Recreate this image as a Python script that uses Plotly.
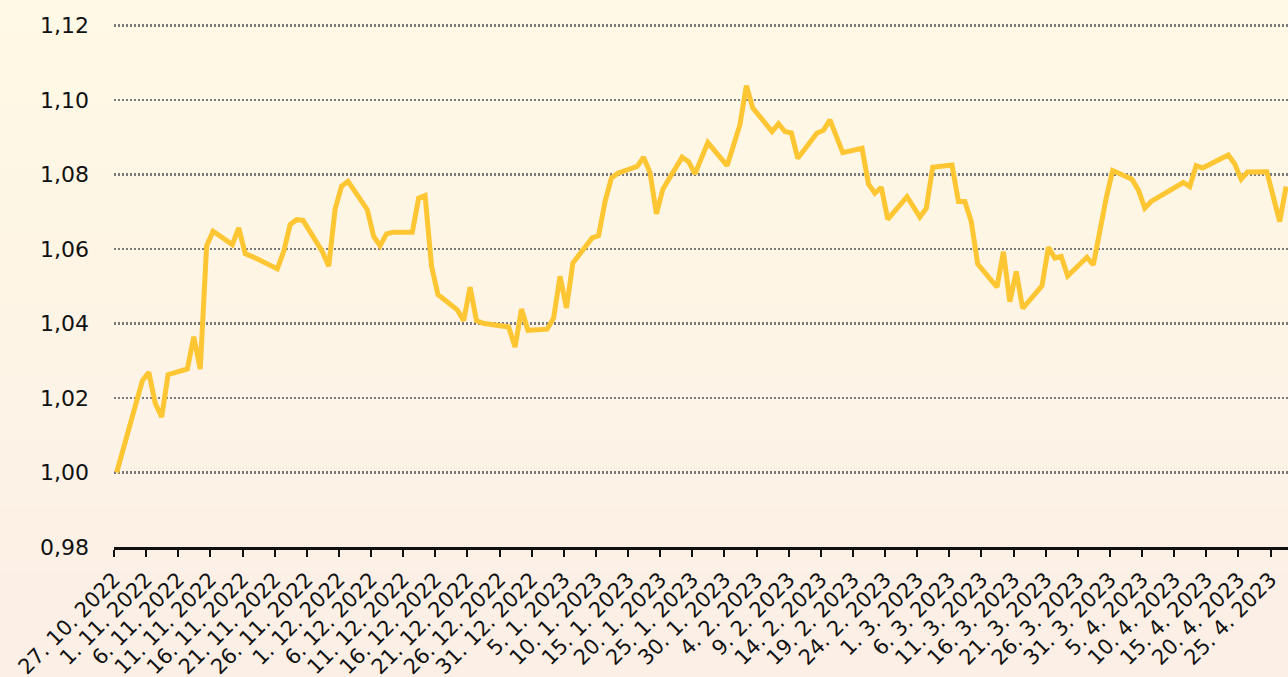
import base64
import struct
import zlib

import pandas as pd
import plotly.graph_objects as go

# ---------------- data ----------------
dates = [
    "2022-10-27", "2022-10-31", "2022-11-01", "2022-11-02", "2022-11-03", "2022-11-04",
    "2022-11-07", "2022-11-08", "2022-11-09", "2022-11-10", "2022-11-11",
    "2022-11-14", "2022-11-15", "2022-11-16", "2022-11-18",
    "2022-11-21", "2022-11-22", "2022-11-23", "2022-11-24", "2022-11-25",
    "2022-11-28", "2022-11-29", "2022-11-30", "2022-12-01", "2022-12-02",
    "2022-12-05", "2022-12-06", "2022-12-07", "2022-12-08", "2022-12-09",
    "2022-12-12", "2022-12-13", "2022-12-14", "2022-12-15", "2022-12-16",
    "2022-12-19", "2022-12-20", "2022-12-21", "2022-12-22", "2022-12-23",
    "2022-12-27", "2022-12-28", "2022-12-29", "2022-12-30",
    "2023-01-02", "2023-01-03", "2023-01-04", "2023-01-05", "2023-01-06",
    "2023-01-09", "2023-01-10", "2023-01-11", "2023-01-12", "2023-01-13",
    "2023-01-16", "2023-01-17", "2023-01-18", "2023-01-19", "2023-01-20",
    "2023-01-23", "2023-01-24", "2023-01-25", "2023-01-27",
    "2023-01-30", "2023-02-01", "2023-02-02", "2023-02-03",
    "2023-02-06", "2023-02-07", "2023-02-08", "2023-02-09", "2023-02-10",
    "2023-02-13", "2023-02-14", "2023-02-15", "2023-02-16", "2023-02-17",
    "2023-02-20", "2023-02-21", "2023-02-22", "2023-02-23", "2023-02-24",
    "2023-02-27", "2023-03-01", "2023-03-02", "2023-03-03",
    "2023-03-06", "2023-03-07", "2023-03-08", "2023-03-09", "2023-03-10",
    "2023-03-13", "2023-03-14", "2023-03-15", "2023-03-16", "2023-03-17",
    "2023-03-20", "2023-03-21", "2023-03-22", "2023-03-23", "2023-03-24",
    "2023-03-27", "2023-03-28", "2023-03-30", "2023-03-31",
    "2023-04-03", "2023-04-04", "2023-04-05", "2023-04-06",
    "2023-04-11", "2023-04-12", "2023-04-13", "2023-04-14",
    "2023-04-18", "2023-04-19", "2023-04-20", "2023-04-21",
    "2023-04-24", "2023-04-26", "2023-04-27",
]
values = [
    1.0000, 1.0247, 1.0269, 1.0186, 1.0149, 1.0263,
    1.0278, 1.0365, 1.0278, 1.0609, 1.0648,
    1.0612, 1.0657, 1.0588, 1.0573,
    1.0547, 1.0594, 1.0666, 1.0679, 1.0677,
    1.0594, 1.0554, 1.0708, 1.0769, 1.0782,
    1.0706, 1.0634, 1.0609, 1.0641, 1.0645,
    1.0645, 1.0737, 1.0744, 1.0554, 1.0478,
    1.0437, 1.0408, 1.0498, 1.0408, 1.0401,
    1.0391, 1.0337, 1.0439, 1.0382,
    1.0385, 1.0415, 1.0527, 1.0442, 1.0563,
    1.0630, 1.0636, 1.0728, 1.0791, 1.0804,
    1.0822, 1.0847, 1.0806, 1.0695, 1.0761,
    1.0847, 1.0835, 1.0802, 1.0886,
    1.0824, 1.0934, 1.1039, 1.0979,
    1.0916, 1.0937, 1.0916, 1.0912, 1.0844,
    1.0912, 1.0919, 1.0947, 1.0898, 1.0859,
    1.0871, 1.0775, 1.0750, 1.0766, 1.0680,
    1.0741, 1.0686, 1.0710, 1.0820,
    1.0826, 1.0728, 1.0728, 1.0674, 1.0560,
    1.0498, 1.0593, 1.0459, 1.0540, 1.0441,
    1.0501, 1.0605, 1.0576, 1.0580, 1.0528,
    1.0578, 1.0558, 1.0737, 1.0811,
    1.0788, 1.0759, 1.0710, 1.0728,
    1.0779, 1.0768, 1.0824, 1.0818,
    1.0853, 1.0829, 1.0788, 1.0807,
    1.0808, 1.0674, 1.0768,
]
y_ticks = [0.98, 1.00, 1.02, 1.04, 1.06, 1.08, 1.10, 1.12]
x_first_tick = "2022-10-27"
x_range_end = "2023-04-27 17:00"

# ---------------- layout constants ----------------
W, H = 1288, 677
Y_MIN, Y_MAX = 0.98, 1.121            # a hair above 1,12 so its gridline is drawn
PX_PER_UNIT = 520.8 / 0.14
ML, MB, MR = 114.3, 130.2, 0
MT = 26 - (Y_MAX - 1.12) * PX_PER_UNIT
PW, PH = W - ML - MR, H - MT - MB
LINE_COLOR = "#FFC633"
FONT = "DejaVu Sans"


def gradient_png(top, bottom, h=256, w=4):
    rows = []
    for i in range(h):
        t = i / (h - 1)
        px = bytes(int(round(top[k] + (bottom[k] - top[k]) * t)) for k in range(3))
        rows.append(b"\x00" + px * w)
    raw = b"".join(rows)

    def chunk(tag, data):
        return (struct.pack(">I", len(data)) + tag + data
                + struct.pack(">I", zlib.crc32(tag + data) & 0xFFFFFFFF))

    png = (b"\x89PNG\r\n\x1a\n"
           + chunk(b"IHDR", struct.pack(">IIBBBBB", w, h, 8, 2, 0, 0, 0))
           + chunk(b"IDAT", zlib.compress(raw, 9))
           + chunk(b"IEND", b""))
    return "data:image/png;base64," + base64.b64encode(png).decode()


bg = gradient_png((255, 249, 229), (252, 239, 230))

x_vals = pd.to_datetime(pd.Series(dates)) + pd.Timedelta(hours=10)

fig = go.Figure()
fig.add_trace(go.Scatter(
    x=x_vals, y=values, mode="lines",
    line=dict(color=LINE_COLOR, width=5),
    hoverinfo="skip", showlegend=False,
))

fig.update_layout(
    width=W, height=H,
    margin=dict(l=ML, r=MR, t=MT, b=MB, pad=0),
    paper_bgcolor="#FCF0E6",
    plot_bgcolor="rgba(0,0,0,0)",
    separators=",.",
    font=dict(family=FONT, color="#111111", size=22),
    hovermode=False,
    images=[dict(
        source=bg, xref="paper", yref="paper",
        x=-ML / PW, y=1 + MT / PH, sizex=W / PW, sizey=H / PH,
        xanchor="left", yanchor="top", sizing="stretch", layer="below",
    )],
)

fig.update_xaxes(
    type="date",
    range=[x_first_tick, x_range_end],
    tick0=x_first_tick, dtick=5 * 86400000,
    tickformat="%-d. %-m. %Y",
    tickangle=-45,
    ticks="outside", ticklen=7, tickwidth=2, tickcolor="#111111",
    ticklabelstandoff=2,
    showline=True, linecolor="#111111", linewidth=3,
    showgrid=False, zeroline=False, automargin=False,
    tickfont=dict(family=FONT, size=21, color="#111111"),
)
fig.update_yaxes(
    range=[Y_MIN, Y_MAX],
    tickvals=y_ticks,
    tickformat=".2f",
    ticks="", ticklabelstandoff=24,
    showgrid=True, gridcolor="#7a7a7a", gridwidth=2.5, griddash="2.3px,1.7px",
    showline=False, zeroline=False, automargin=False,
    tickfont=dict(family=FONT, size=22, color="#111111"),
)

fig.write_html(
    "out.html",
    config={"displayModeBar": False, "staticPlot": True},
    post_script=("document.documentElement.style.margin='0';"
                 "document.body.style.margin='0';document.body.style.padding='0';"
                 "document.body.style.overflow='hidden';"),
)
